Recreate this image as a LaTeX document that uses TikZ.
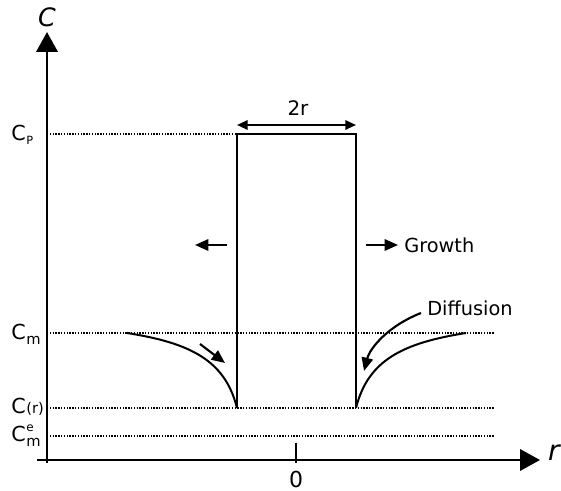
\documentclass[tikz,border=0pt]{standalone}
\usepackage{fontspec}
\setmainfont{DejaVu Sans}
\usetikzlibrary{arrows.meta}
\begin{document}
\begin{tikzpicture}[x=0.75pt,y=-0.75pt,
  axis/.style={line width=2.1pt,-{Triangle[length=15pt,width=16pt]}},
  guide/.style={line width=1.1pt,densely dotted},
  wall/.style={line width=1.9pt},
  curve/.style={line width=1.5pt},
  smallarrow/.style={line width=1.6pt,-{Triangle[length=10pt,width=8.5pt]}},
  lbl/.style={anchor=base west,inner sep=0pt,font=\fontsize{15.5}{17}\selectfont},
  txt/.style={inner sep=0pt,font=\fontsize{14.5}{17}\selectfont}]
\useasboundingbox (0,0) rectangle (561,491);
% axes
\coordinate (yb) at (47,463);
\coordinate (yt) at (47,32);
\coordinate (xl) at (37,460);
\coordinate (xr) at (540,460);
\draw[axis] (yb) -- (yt);
\draw[axis] (xl) -- (xr);
\node[inner sep=0pt,font=\fontsize{19}{22}\selectfont\itshape] (clab) at (47,17) {C};
\node[inner sep=0pt,font=\fontsize{21}{24}\selectfont\itshape] (rlab) at (554,453) {r};
\coordinate (tt) at (296,443);
\coordinate (tb) at (296,463);
\draw[line width=1.6pt] (tt) -- (tb);
\node[txt,font=\fontsize{16.5}{18}\selectfont] (zero) at (296,479) {0};
% guide lines
\coordinate (cp0) at (47,134); \coordinate (cp1) at (237,134);
\coordinate (cm0) at (47,333); \coordinate (cm1) at (494,333);
\coordinate (cr0) at (47,408); \coordinate (cr1) at (494,408);
\coordinate (ce0) at (47,436); \coordinate (ce1) at (494,436);
\draw[guide] (cp0) -- (cp1);
\draw[guide] (cm0) -- (cm1);
\draw[guide] (cr0) -- (cr1);
\draw[guide] (ce0) -- (ce1);
% labels
\node[lbl] (lcp) at (11,141) {C\kern0.5pt\raisebox{-0.35ex}{\fontsize{8.5}{9}\selectfont P}};
\node[lbl] (lcm) at (11,340) {C\kern0.5pt\raisebox{-0.4ex}{\fontsize{11}{12}\selectfont m}};
\node[lbl] (lcr) at (11,414) {C\kern0.5pt\fontsize{11}{12}\selectfont(r)};
\node[lbl] (lce) at (11,442) {C\kern0.5pt\rlap{\raisebox{0.95ex}{\fontsize{9}{10}\selectfont e}}\raisebox{-0.4ex}{\fontsize{11}{12}\selectfont m}};
% particle
\coordinate (pl) at (237,408); \coordinate (ptl) at (237,134);
\coordinate (ptr) at (356,134); \coordinate (pr) at (356,408);
\draw[wall,line join=miter] (pl) -- (ptl) -- (ptr) -- (pr);
% 2r
\coordinate (wl) at (237,125); \coordinate (wr) at (356,125);
\draw[line width=1.5pt,{Triangle[length=8pt,width=7pt]}-{Triangle[length=8pt,width=7pt]}] (wl) -- (wr);
\node[txt,font=\fontsize{15}{18}\selectfont] (tworr) at (298,108) {2r};
% growth arrows
\coordinate (ga0) at (227,245); \coordinate (ga1) at (195,245);
\coordinate (gb0) at (366,245); \coordinate (gb1) at (398,245);
\draw[smallarrow] (ga0) -- (ga1);
\draw[smallarrow] (gb0) -- (gb1);
\node[txt,anchor=west] (growth) at (404,245) {Growth};
% concentration curves
\coordinate (lc0) at (127,333); \coordinate (rc1) at (466,333);
\draw[curve] (lc0) .. controls (190,343) and (225,360) .. (pl);
\draw[curve] (pr) .. controls (368,360) and (403,343) .. (rc1);
% diffusion arrows
\coordinate (da0) at (200,344); \coordinate (da1) at (225,363);
\draw[smallarrow] (da0) -- (da1);
\node[txt,anchor=west] (diff) at (427,308) {Diffusion};
\coordinate (db0) at (421,313); \coordinate (db1) at (364,371);
\draw[smallarrow] (db0) .. controls (388,326) and (370,348) .. (db1);
\end{tikzpicture}
\end{document}
